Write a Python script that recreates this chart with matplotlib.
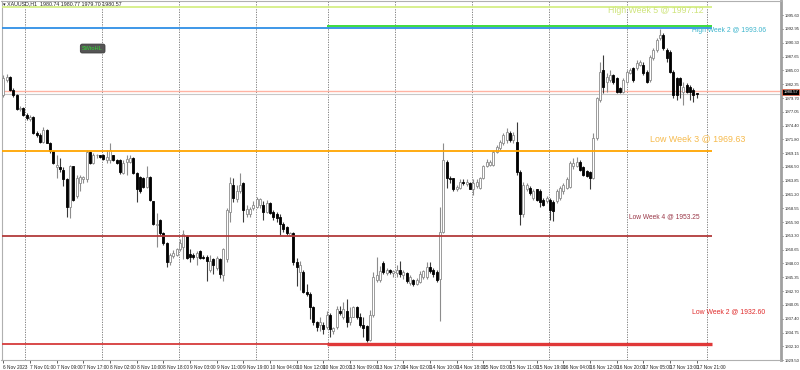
import numpy as np
import matplotlib
matplotlib.use('Agg')
from matplotlib import pyplot as plt
from matplotlib import transforms

plt.rcParams['font.family'] = ['Liberation Sans', 'DejaVu Sans']

# XAUUSD H1 candles, 6 Nov 2023 -> 17 Nov 2023 21:00
opens = [1980.3, 1983.2, 1983.8, 1981.3, 1980.3, 1977.6, 1977.8, 1976.5, 1975.7, 1976.1,
         1973.1, 1972.7, 1971.3, 1973.6, 1971.1, 1969.6, 1966.4, 1966.4, 1966.0, 1964.1,
         1958.9, 1966.6, 1961.0, 1963.5, 1964.1, 1964.1, 1969.4, 1967.3, 1968.7, 1968.7,
         1968.7, 1967.9, 1967.9, 1968.7, 1967.9, 1967.9, 1965.4, 1967.5, 1967.5, 1968.3,
         1965.4, 1964.6, 1964.4, 1962.7, 1964.6, 1959.9, 1955.3, 1956.4, 1953.9, 1952.0,
         1948.2, 1949.5, 1949.7, 1950.7, 1951.2, 1953.3, 1949.9, 1949.7, 1949.3, 1950.3,
         1949.3, 1949.3, 1946.8, 1948.8, 1947.2, 1948.8, 1945.7, 1948.8, 1957.9, 1963.1,
         1960.4, 1961.8, 1963.5, 1957.4, 1957.4, 1958.7, 1958.9, 1959.3, 1959.3, 1957.9,
         1959.5, 1957.9, 1957.4, 1957.0, 1955.5, 1954.9, 1953.5, 1953.9, 1948.2, 1946.3,
         1946.3, 1942.6, 1942.1, 1939.6, 1936.7, 1936.3, 1936.3, 1935.9, 1938.2, 1935.0,
         1935.9, 1938.8, 1937.8, 1938.8, 1936.7, 1937.8, 1939.6, 1937.8, 1936.3, 1936.1,
         1933.4, 1938.2, 1944.9, 1944.9, 1948.0, 1946.1, 1946.8, 1946.1, 1946.1, 1946.8,
         1945.7, 1946.1, 1944.2, 1944.9, 1944.0, 1944.5, 1945.5, 1945.5, 1947.4, 1946.8,
         1946.3, 1945.1, 1954.1, 1967.5, 1964.4, 1964.3, 1962.2, 1962.5, 1963.7, 1963.3,
         1963.5, 1962.3, 1962.9, 1962.5, 1964.4, 1966.6, 1966.9, 1966.9, 1969.4, 1970.2,
         1971.1, 1971.7, 1973.1, 1971.7, 1971.3, 1965.6, 1957.4, 1962.2, 1962.5, 1960.6,
         1962.2, 1961.8, 1960.2, 1959.9, 1960.2, 1959.7, 1959.9, 1960.6, 1961.8, 1962.5,
         1962.7, 1966.6, 1966.6, 1967.5, 1966.4, 1965.8, 1965.6, 1964.4, 1972.1, 1979.4,
         1985.1, 1982.8, 1983.2, 1984.2, 1983.6, 1981.7, 1980.9, 1982.8, 1984.5, 1985.5,
         1985.5, 1986.1, 1986.1, 1984.7, 1983.2, 1987.4, 1988.9, 1991.2, 1991.8, 1988.9,
         1988.6, 1984.7, 1983.6, 1983.6, 1980.9, 1982.2, 1981.9, 1981.3, 1980.74]
highs = [1984.2, 1984.3, 1984.0, 1981.7, 1980.5, 1978.2, 1978.0, 1976.9, 1976.5, 1976.3,
         1973.4, 1973.1, 1974.2, 1973.8, 1971.3, 1969.8, 1968.8, 1968.3, 1966.4, 1964.4,
         1966.9, 1966.7, 1965.0, 1965.0, 1964.8, 1969.8, 1969.6, 1969.2, 1969.0, 1968.8,
         1969.0, 1969.8, 1971.1, 1968.8, 1968.1, 1968.1, 1967.9, 1968.7, 1968.8, 1968.5,
         1965.6, 1964.8, 1964.6, 1966.6, 1964.8, 1960.0, 1957.7, 1956.6, 1954.1, 1952.2,
         1950.1, 1950.5, 1951.0, 1952.6, 1954.5, 1953.5, 1950.7, 1950.1, 1950.3, 1950.5,
         1949.7, 1949.7, 1949.7, 1949.1, 1949.5, 1949.1, 1950.9, 1958.7, 1964.6, 1964.4,
         1963.1, 1965.4, 1963.7, 1959.3, 1958.9, 1959.9, 1960.8, 1960.6, 1959.9, 1960.2,
         1959.7, 1958.3, 1957.9, 1957.4, 1956.0, 1955.1, 1954.1, 1954.1, 1949.1, 1948.4,
         1946.8, 1944.0, 1942.6, 1939.8, 1936.9, 1937.8, 1936.7, 1938.8, 1938.6, 1935.9,
         1939.8, 1939.8, 1940.7, 1941.1, 1939.6, 1939.8, 1939.8, 1938.6, 1937.7, 1936.3,
         1939.0, 1946.3, 1949.3, 1947.6, 1948.4, 1947.2, 1947.0, 1946.8, 1947.8, 1948.4,
         1946.8, 1946.3, 1945.7, 1945.1, 1945.3, 1946.5, 1946.8, 1948.2, 1948.2, 1947.2,
         1946.8, 1958.9, 1971.1, 1967.9, 1964.8, 1964.4, 1963.1, 1964.1, 1964.1, 1964.1,
         1963.7, 1964.1, 1964.1, 1964.6, 1966.9, 1968.1, 1967.9, 1969.8, 1970.8, 1971.7,
         1973.1, 1974.0, 1973.4, 1973.2, 1975.2, 1966.0, 1963.7, 1963.5, 1962.9, 1962.2,
         1962.3, 1962.2, 1960.6, 1961.0, 1960.6, 1960.2, 1962.2, 1962.9, 1963.5, 1964.6,
         1967.7, 1968.3, 1968.5, 1967.9, 1966.6, 1966.0, 1965.8, 1973.1, 1979.9, 1986.6,
         1988.0, 1984.5, 1985.1, 1984.3, 1983.8, 1981.9, 1983.6, 1985.1, 1985.5, 1985.7,
         1987.0, 1987.0, 1986.6, 1985.1, 1988.0, 1989.3, 1991.2, 1993.0, 1992.2, 1989.3,
         1988.9, 1985.1, 1983.8, 1983.8, 1982.8, 1982.6, 1982.2, 1981.7, 1980.77]
lows = [1979.9, 1982.8, 1981.1, 1979.9, 1977.5, 1977.3, 1976.3, 1975.5, 1975.3, 1972.9,
        1972.3, 1971.0, 1971.1, 1971.0, 1969.2, 1967.1, 1964.4, 1965.6, 1962.9, 1957.0,
        1956.8, 1959.9, 1960.6, 1961.8, 1963.5, 1963.7, 1967.1, 1967.1, 1968.3, 1968.3,
        1967.9, 1967.3, 1967.3, 1967.7, 1967.1, 1965.2, 1965.2, 1965.0, 1967.3, 1965.2,
        1959.7, 1961.6, 1962.5, 1962.5, 1960.0, 1955.3, 1951.2, 1953.5, 1951.6, 1947.4,
        1947.8, 1949.1, 1949.5, 1950.3, 1948.8, 1948.8, 1948.2, 1948.9, 1947.8, 1948.8,
        1948.9, 1944.7, 1946.3, 1945.9, 1946.8, 1945.3, 1944.7, 1948.2, 1956.0, 1959.7,
        1959.7, 1961.6, 1956.0, 1957.0, 1957.0, 1958.3, 1958.7, 1958.7, 1956.4, 1957.7,
        1957.4, 1956.4, 1956.0, 1953.5, 1954.1, 1953.5, 1953.2, 1947.8, 1943.6, 1943.0,
        1942.4, 1941.7, 1937.3, 1936.3, 1935.0, 1935.0, 1934.4, 1935.4, 1934.0, 1934.4,
        1935.4, 1938.2, 1937.3, 1935.9, 1936.3, 1937.7, 1937.3, 1935.9, 1934.0, 1932.9,
        1933.1, 1937.8, 1944.5, 1944.5, 1945.9, 1945.7, 1945.9, 1945.5, 1945.5, 1945.5,
        1945.1, 1944.2, 1943.8, 1943.6, 1943.8, 1944.2, 1945.1, 1945.1, 1946.1, 1945.5,
        1944.5, 1936.9, 1953.9, 1962.5, 1963.5, 1961.8, 1961.8, 1962.2, 1963.1, 1962.9,
        1962.2, 1961.2, 1962.5, 1962.2, 1964.1, 1966.4, 1966.6, 1966.6, 1969.2, 1969.8,
        1970.8, 1971.1, 1971.3, 1971.1, 1965.0, 1955.4, 1957.0, 1961.8, 1961.2, 1960.2,
        1959.9, 1958.9, 1959.1, 1959.5, 1956.4, 1956.2, 1959.5, 1960.2, 1961.4, 1962.3,
        1962.5, 1966.2, 1966.4, 1965.8, 1964.8, 1964.6, 1962.2, 1964.1, 1971.7, 1979.0,
        1980.7, 1980.9, 1982.8, 1982.4, 1980.7, 1980.7, 1980.7, 1982.6, 1984.3, 1982.8,
        1985.1, 1985.9, 1984.2, 1982.6, 1982.8, 1987.0, 1988.6, 1990.8, 1988.9, 1986.6,
        1984.5, 1979.8, 1979.4, 1979.8, 1978.4, 1980.7, 1979.4, 1979.0, 1979.70]
closes = [1983.6, 1983.8, 1981.3, 1980.3, 1977.6, 1977.8, 1976.5, 1975.9, 1976.1, 1973.1,
          1972.7, 1971.3, 1973.6, 1971.1, 1969.6, 1967.3, 1966.9, 1966.2, 1964.1, 1958.9,
          1966.6, 1960.2, 1964.4, 1964.6, 1964.6, 1969.4, 1967.3, 1968.8, 1968.8, 1968.5,
          1968.1, 1968.5, 1969.8, 1967.9, 1967.3, 1965.6, 1967.3, 1968.1, 1968.3, 1965.4,
          1962.2, 1961.8, 1962.7, 1964.6, 1960.2, 1955.5, 1955.6, 1953.9, 1952.0, 1948.2,
          1949.7, 1950.1, 1950.7, 1952.0, 1953.7, 1949.1, 1949.3, 1949.3, 1950.1, 1949.1,
          1949.1, 1948.4, 1948.4, 1947.8, 1949.1, 1945.9, 1950.7, 1958.3, 1963.5, 1960.6,
          1961.8, 1963.1, 1958.3, 1958.5, 1958.5, 1959.3, 1960.4, 1960.4, 1957.9, 1959.5,
          1957.7, 1957.0, 1956.8, 1955.5, 1954.7, 1953.9, 1953.9, 1948.2, 1947.4, 1947.8,
          1942.6, 1942.1, 1939.6, 1936.7, 1935.9, 1936.7, 1935.4, 1938.2, 1935.4, 1935.7,
          1939.2, 1938.6, 1939.2, 1936.7, 1937.8, 1939.6, 1937.8, 1936.3, 1935.7, 1933.3,
          1938.2, 1945.5, 1945.7, 1946.5, 1946.3, 1946.8, 1946.3, 1946.5, 1946.8, 1945.9,
          1946.3, 1944.7, 1945.5, 1944.0, 1944.9, 1945.9, 1946.5, 1947.4, 1946.5, 1945.9,
          1944.9, 1954.1, 1967.9, 1964.4, 1964.1, 1962.3, 1962.7, 1963.7, 1963.5, 1963.7,
          1962.3, 1963.5, 1963.7, 1964.4, 1966.6, 1967.5, 1967.5, 1969.4, 1970.4, 1971.3,
          1972.7, 1973.2, 1971.7, 1972.7, 1965.6, 1957.4, 1963.1, 1963.1, 1961.6, 1961.8,
          1960.2, 1959.7, 1959.3, 1960.6, 1958.3, 1958.1, 1961.8, 1962.5, 1963.1, 1964.1,
          1967.3, 1967.3, 1967.5, 1966.0, 1965.0, 1964.8, 1964.4, 1972.1, 1979.8, 1984.7,
          1981.9, 1983.8, 1984.2, 1982.8, 1980.9, 1980.9, 1983.2, 1984.7, 1985.1, 1983.2,
          1986.4, 1986.6, 1984.5, 1982.8, 1987.6, 1988.9, 1990.8, 1991.8, 1989.3, 1987.4,
          1984.7, 1980.3, 1980.3, 1982.2, 1981.9, 1980.9, 1980.9, 1980.3, 1980.57]

time_labels = ['6 Nov 2023', '7 Nov 01:00', '7 Nov 09:00', '7 Nov 17:00', '8 Nov 02:00',
               '8 Nov 10:00', '8 Nov 18:00', '9 Nov 03:00', '9 Nov 11:00', '9 Nov 19:00',
               '10 Nov 04:00', '10 Nov 12:00', '10 Nov 20:00', '13 Nov 09:00', '13 Nov 17:00',
               '14 Nov 02:00', '14 Nov 10:00', '14 Nov 18:00', '15 Nov 03:00', '15 Nov 11:00',
               '15 Nov 19:00', '16 Nov 04:00', '16 Nov 12:00', '16 Nov 20:00', '17 Nov 05:00',
               '17 Nov 13:00', '17 Nov 21:00']
price_ticks = [1929.50, 1932.10, 1934.75, 1937.40, 1940.05, 1942.70, 1945.35, 1948.00,
               1950.65, 1953.30, 1955.90, 1958.55, 1961.20, 1963.85, 1966.50, 1969.15,
               1971.80, 1974.40, 1977.05, 1979.70, 1982.35, 1985.00, 1987.65, 1990.30,
               1992.95, 1995.60]
# bar index where each new trading day starts (period separators)
day_starts = [6.6, 29.5, 52.6, 75.7, 97.5, 117.6, 140.7, 163.7, 187.0, 211.0]

# weekly high / low levels
level_names = ['High Week 5', 'High Week 2', 'Low Week 3', 'Low Week 4', 'Low Week 2']
level_prices = [1997.12, 1993.06, 1969.63, 1953.25, 1932.60]
this_week_high = 1993.50
bid, ask = 1980.57, 1981.05


def plot_candles(ax):
    o, h, l, c = np.array(opens), np.array(highs), np.array(lows), np.array(closes)
    x = np.arange(len(c))
    up = c >= o
    ax.vlines(x[up], l[up], h[up], color='#8c8c8c', lw=0.8, zorder=2)
    ax.vlines(x[~up], l[~up], h[~up], color='#3a3a3a', lw=0.8, zorder=2)
    body_low = np.minimum(o, c)
    body_h = np.maximum(np.abs(c - o), 0.08)
    ax.bar(x[up], body_h[up], bottom=body_low[up], width=0.62, color='white',
           edgecolor='#8c8c8c', lw=0.6, zorder=3)
    ax.bar(x[~up], body_h[~up], bottom=body_low[~up], width=0.62, color='black',
           edgecolor='black', lw=0.6, zorder=3)


fig = plt.figure(figsize=(8, 3.7), dpi=100)
ax = fig.add_axes([1.5 / 800, 10 / 370, 779.5 / 800, 359 / 370])
ax.set_xlim(-0.55, 233.3)
ax.set_ylim(1929.62, 1998.31)

for d in day_starts:
    ax.axvline(d, color='#707070', lw=0.6, ls=(0, (1.5, 1.5)), zorder=1)

plot_candles(ax)

# level lines
line_end = 212.6
week_start = 97.1
level_colors = ['#d6ef86', '#2f8fe6', '#ffa500', '#b23a3a', '#d63c3c']
text_colors = ['#cfe47c', '#3cb4cc', '#f6ba4c', '#9a3848', '#e02c2c']
text_sizes = [6.35, 4.85, 6.4, 4.8, 4.95]
text_pos = [(181.4, 1996.4), (206.6, 1992.7), (194.0, 1971.9), (187.7, 1957.0), (206.6, 1938.8)]
for name, p, lc, tc, fs, (tx, ty) in zip(level_names, level_prices, level_colors,
                                         text_colors, text_sizes, text_pos):
    ax.hlines(p, -0.55, line_end, color=lc, lw=1.3, zorder=4)
    ax.text(tx, ty, f'{name} @ {p:.2f}', color=tc, fontsize=fs, va='center',
            ha='left', clip_on=False, zorder=6)
ax.hlines(this_week_high, week_start, line_end, color='#3ddc3d', lw=1.4, zorder=4)
ax.hlines(level_prices[-1], week_start, line_end, color='#e03838', lw=2.4, zorder=4)

# bid / ask
ax.axhline(bid, color='#c8c8c8', lw=0.8, zorder=1)
ax.axhline(ask, color='#ffb3a3', lw=1.0, zorder=1)
trans = transforms.blended_transform_factory(ax.transAxes, ax.transData)
ax.text(1.003, bid + 0.3, f'{bid:.2f}', transform=trans, fontsize=3, color='white',
        va='center', ha='left', clip_on=False, zorder=7,
        bbox=dict(boxstyle='square,pad=0.3', fc='black', ec='#ff7050', lw=0.5))

# small indicator button and header
ax.text(26.8, 1989.2, 'SWtoHL', color='#33dd33', fontsize=4, ha='center', va='center',
        bbox=dict(boxstyle='round,pad=0.35', fc='#555555', ec='#3a3a3a', lw=0.6), zorder=6)
fig.text(3 / 800, 1 - 4 / 370, '\u25be XAUUSD,H1  1980.74 1980.77 1979.70 1980.57',
         fontsize=3.8, color='#222222', va='center', ha='left')

# axes
ax.set_xticks(range(0, len(closes), 8))
ax.set_xticklabels(time_labels, ha='left')
ax.yaxis.tick_right()
ax.set_yticks(price_ticks)
ax.set_yticklabels([f'{t:.2f}' for t in price_ticks])
ax.tick_params(axis='x', labelsize=3.4, length=2, width=0.5, pad=1.5, colors='#222222')
ax.tick_params(axis='y', labelsize=3.0, length=1.5, width=0.5, pad=1, colors='#222222')
for s in ['left', 'top', 'bottom']:
    ax.spines[s].set_color('#b0b0b0')
    ax.spines[s].set_linewidth(0.8)
ax.spines['right'].set_color('#a0a0a0')
ax.spines['right'].set_linewidth(2)

fig.savefig('out.png', dpi=100)
